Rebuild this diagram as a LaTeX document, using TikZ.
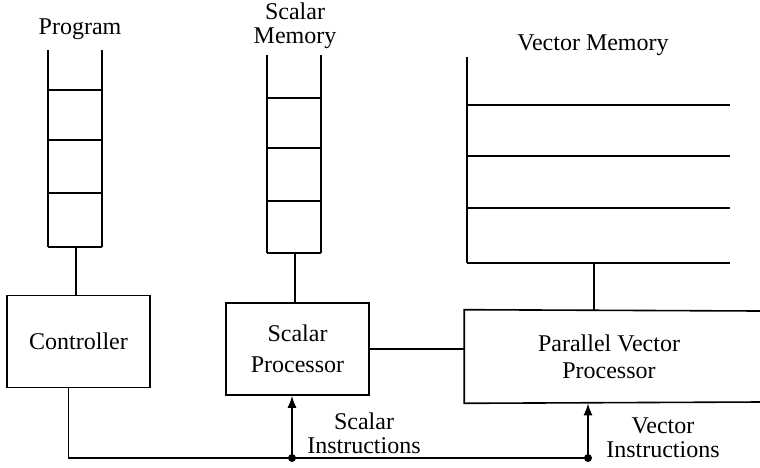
\documentclass[tikz,border=0pt]{standalone}
\usepackage{fontspec}
\setmainfont{Liberation Serif}
\usetikzlibrary{arrows.meta}
\tikzset{
  unit/.style={draw,line width=0.8pt,minimum width=71.5pt,minimum height=46pt,inner sep=0pt,align=center,
    font=\fontsize{12}{15.5}\selectfont},
  lbl/.style={align=center,inner sep=0pt,font=\fontsize{12}{12}\selectfont},
  wire/.style={line width=0.8pt},
  dot/.style={circle,fill,inner sep=0pt,minimum size=4pt}
}
\begin{document}
\begin{tikzpicture}[x=0.5pt,y=-0.5pt]
\useasboundingbox (0,0) rectangle (760,467);
% memories
\draw[wire] (48,50) -- (48,247);
\draw[wire] (102,50) -- (102,247);
\draw[wire] (48,90) -- (102,90);
\draw[wire] (48,140) -- (102,140);
\draw[wire] (48,193) -- (102,193);
\draw[wire] (48,247) -- (102,247);
\coordinate (progmem) at (76,247);
\draw[wire] (267,55) -- (267,253);
\draw[wire] (321,55) -- (321,253);
\draw[wire] (267,98) -- (321,98);
\draw[wire] (267,148) -- (321,148);
\draw[wire] (267,201) -- (321,201);
\draw[wire] (267,253) -- (321,253);
\coordinate (scalmem) at (295,253);
\draw[wire] (467,57) -- (467,263);
\draw[wire] (467,105) -- (730,105);
\draw[wire] (467,156) -- (730,156);
\draw[wire] (467,208) -- (730,208);
\draw[wire] (467,263) -- (730,263);
\coordinate (vecmem) at (594,263);
\node[lbl] (progtxt) at (80,29) {Program};
\node[lbl] (scaltxt) at (295,26) {Scalar\\Memory};
\node[lbl] (vectxt) at (593,45) {Vector Memory};
% processors
\node[unit] (ctrl) at (78.5,341.5) {Controller};
\node[unit] (sproc) at (297.5,349) {Scalar\\Processor};
\node[unit,draw=none,minimum width=144pt,font=\fontsize{12}{13.5}\selectfont] (pvp) at (609,356.5) {Parallel Vector\\Processor};
\draw[wire] (760,311) -- (pvp.north west) -- (pvp.south west) -- (760,402);
% connections
\draw[wire] (progmem) -- (progmem |- ctrl.north);
\draw[wire] (scalmem) -- (scalmem |- sproc.north);
\draw[wire] (vecmem) -- (vecmem |- pvp.north);
\draw[wire] (sproc.east) -- (sproc.east -| pvp.west);
\coordinate (jscal) at (292,458);
\coordinate (jvec) at (588,458);
\draw[wire] ([xshift=-5pt]ctrl.south) |- (jscal) -- (jvec);
\draw[wire,-{Latex[length=6pt,width=4.5pt]}] (jscal) -- (jscal |- sproc.south);
\draw[wire,-{Latex[length=6pt,width=4.5pt]}] (jvec) -- (jvec |- pvp.south);
\node[dot] (dscal) at (jscal) {};
\node[dot] (dvec) at (jvec) {};
\node[lbl] (sinstr) at (364,433) {Scalar\\Instructions};
\node[lbl] (vinstr) at (663,438) {Vector\\Instructions};
\end{tikzpicture}
\end{document}
